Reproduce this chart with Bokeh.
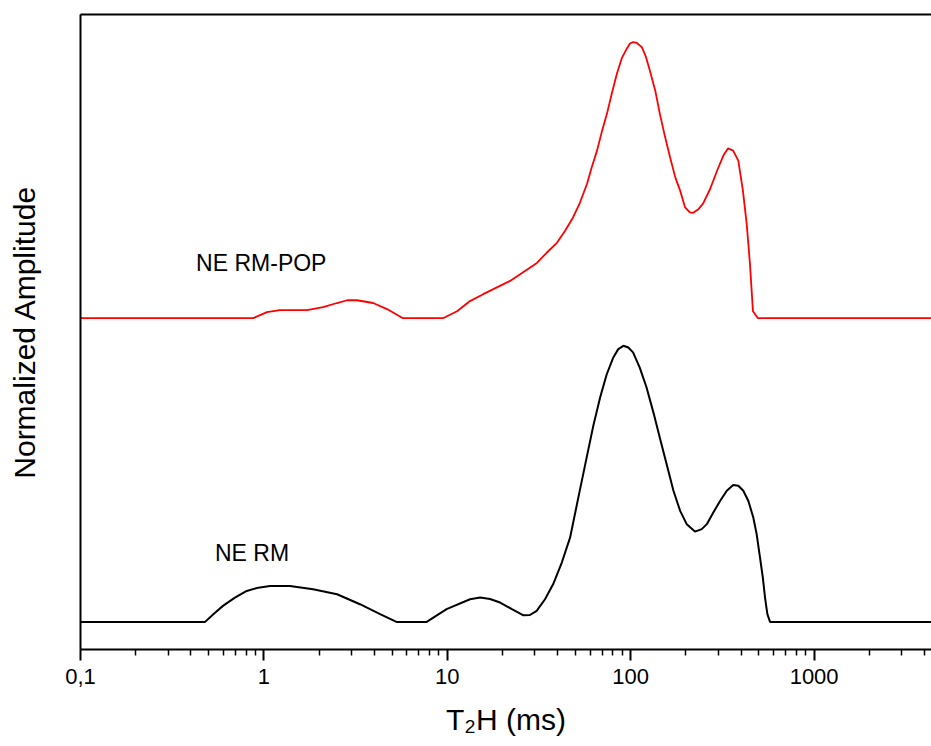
from bokeh.plotting import figure
from bokeh.models import Range1d, FixedTicker, LogAxis
from bokeh.core.properties import value
from bokeh.embed import file_html
from bokeh.resources import INLINE

# ---- data ----
ne_rm_t2 = [0.1, 0.478, 0.530, 0.598, 0.695, 0.806, 0.932, 1.08, 1.387, 1.853,
            2.505, 3.34, 4.30, 5.28, 7.72, 9.91, 13.3, 15.1, 17.1, 19.4,
            22.5, 26.0, 28.2, 30.7, 34.1, 37.8, 42.1, 46.7, 51.8, 57.5,
            62.5, 68.1, 74.0, 80.4, 85.5, 91.2, 97.0, 103, 112, 122,
            133, 144, 157, 171, 186, 202, 224, 244, 260, 282,
            307, 334, 362, 386, 411, 438, 466, 486, 507, 525,
            540, 556, 575, 5000]
ne_rm_amp = [0, 0, 0.028, 0.058, 0.088, 0.112, 0.124, 0.130, 0.130, 0.118,
             0.100, 0.064, 0.028, 0, 0, 0.046, 0.082, 0.088, 0.083, 0.070,
             0.046, 0.024, 0.025, 0.040, 0.082, 0.137, 0.215, 0.305, 0.450, 0.595,
             0.710, 0.813, 0.897, 0.958, 0.988, 1.0, 0.994, 0.976, 0.921, 0.849,
             0.758, 0.668, 0.571, 0.475, 0.402, 0.354, 0.327, 0.336, 0.354, 0.396,
             0.438, 0.475, 0.496, 0.493, 0.475, 0.438, 0.378, 0.318, 0.233, 0.161,
             0.088, 0.028, 0, 0]

ne_rm_pop_t2 = [0.1, 0.873, 1.04, 1.22, 1.72, 2.10, 2.505, 2.84, 3.22, 3.94,
                4.69, 5.73, 9.48, 11.3, 13.3, 15.7, 22.0, 30.8, 34.8, 39.6,
                43.8, 48.4, 52.9, 57.8, 61.3, 65.5, 69.5, 74.3, 78.8, 84.2,
                89.3, 95.5, 99.1, 103, 108, 115, 121, 127, 136, 144,
                154, 164, 175, 186, 198, 210, 219, 234, 248, 271,
                296, 320, 339, 362, 386, 409, 429, 447, 464, 494, 5000]
ne_rm_pop_amp = [0, 0, 0.022, 0.029, 0.029, 0.040, 0.055, 0.065, 0.065, 0.055,
                 0.033, 0, 0, 0.025, 0.062, 0.087, 0.135, 0.200, 0.237, 0.273,
                 0.316, 0.364, 0.419, 0.487, 0.547, 0.607, 0.674, 0.742, 0.813, 0.887,
                 0.941, 0.978, 0.995, 1.0, 0.997, 0.982, 0.947, 0.898, 0.825, 0.742,
                 0.656, 0.582, 0.510, 0.462, 0.401, 0.383, 0.382, 0.395, 0.415, 0.468,
                 0.535, 0.589, 0.615, 0.607, 0.571, 0.462, 0.341, 0.195, 0.025, 0, 0]

series_names = ["NE RM", "NE RM-POP"]
major_ticks = [0.1, 1, 10, 100, 1000]
tick_labels = ["0,1", "1", "10", "100", "1000"]
minor_ticks = [m * d for d in [0.1, 1, 10, 100, 1000] for m in range(2, 10)]

RED_OFFSET = 1.10
FONT = "Liberation Sans"

p = figure(width=931, height=746, x_axis_type="log",
           x_range=Range1d(0.1, 4365), y_range=Range1d(-0.10, 2.20),
           output_backend="svg", toolbar_location=None,
           min_border_left=80, min_border_right=0, min_border_top=14,
           min_border_bottom=97)
p.outline_line_color = None
p.xgrid.visible = False
p.ygrid.visible = False
p.background_fill_color = "white"
p.border_fill_color = "white"

# curves
p.line(ne_rm_t2, ne_rm_amp, line_color="black", line_width=2)
p.line(ne_rm_pop_t2, [a + RED_OFFSET for a in ne_rm_pop_amp],
       line_color="#ff0000", line_width=1.8)

# curve labels
p.text(x=[0.541, 0.427], y=[0.25, 1.30], text=series_names,
       text_font=value(FONT), text_font_size="23px", text_color="black",
       text_baseline="alphabetic", text_align="left")

# x axis
xa = p.xaxis[0]
xa.ticker = FixedTicker(ticks=major_ticks, minor_ticks=minor_ticks)
xa.major_label_overrides = {t: l for t, l in zip(major_ticks, tick_labels)}
xa.axis_label = "T\u2082H (ms)"
xa.axis_label_text_font = FONT
xa.axis_label_text_font_size = "30px"
xa.axis_label_text_font_style = "normal"
xa.axis_label_text_color = "black"
xa.axis_label_standoff = 16
xa.major_label_text_font = FONT
xa.major_label_text_font_size = "22px"
xa.major_label_text_color = "black"
xa.major_label_standoff = 8
xa.axis_line_width = 2
xa.axis_line_color = "black"
xa.major_tick_line_width = 2
xa.major_tick_line_color = "black"
xa.major_tick_out = 11
xa.major_tick_in = 0
xa.minor_tick_line_width = 1.5
xa.minor_tick_line_color = "black"
xa.minor_tick_out = 6
xa.minor_tick_in = 0

# y axis
ya = p.yaxis[0]
ya.ticker = FixedTicker(ticks=[])
ya.major_tick_line_color = None
ya.minor_tick_line_color = None
ya.major_label_text_font_size = "0px"
ya.axis_label = "Normalized Amplitude"
ya.axis_label_text_font = FONT
ya.axis_label_text_font_size = "30px"
ya.axis_label_text_font_style = "normal"
ya.axis_label_text_color = "black"
ya.axis_label_standoff = 40
ya.axis_line_width = 2
ya.axis_line_color = "black"

# top border
top = LogAxis(ticker=FixedTicker(ticks=[]), major_label_text_font_size="0px",
              major_tick_line_color=None, minor_tick_line_color=None,
              axis_line_width=2, axis_line_color="black")
p.add_layout(top, "above")

open("out.html", "w").write(file_html(p, INLINE))
